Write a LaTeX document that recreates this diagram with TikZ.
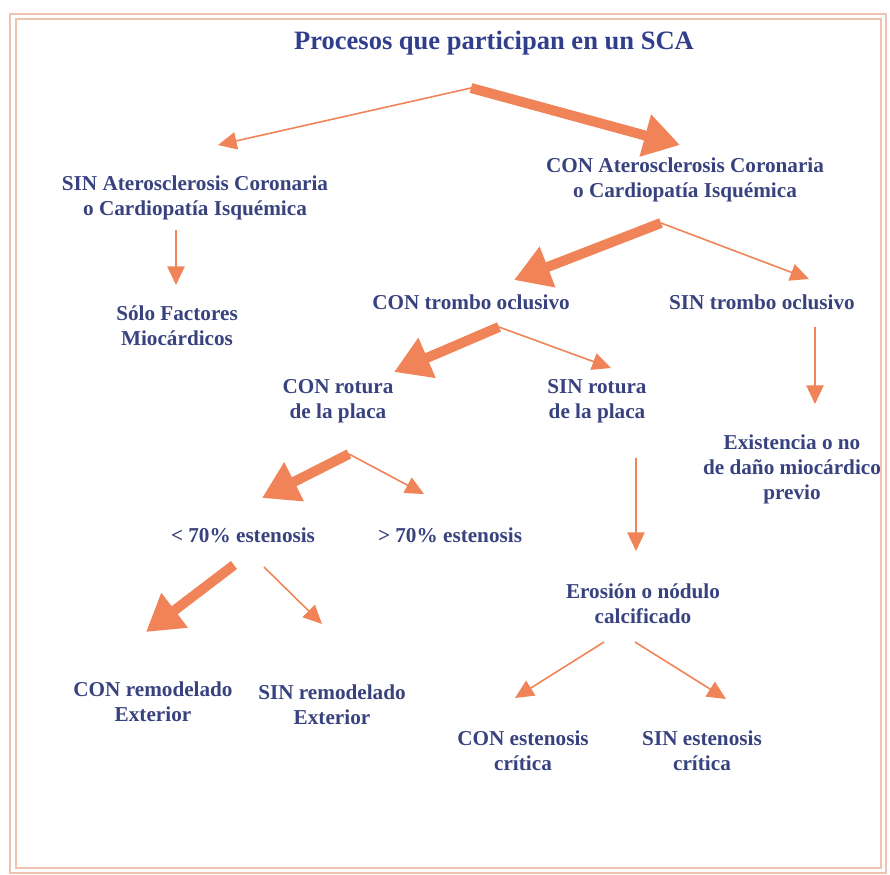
\documentclass[tikz,border=0pt]{standalone}
\usepackage{fontspec}
\setmainfont{Liberation Serif}
\usepackage{xcolor}
\usepackage{tikz}
\usetikzlibrary{arrows.meta}
\definecolor{flecha}{RGB}{240,132,88}
\definecolor{texto}{RGB}{56,66,126}
\definecolor{titulo}{RGB}{48,62,140}
\definecolor{marco}{RGB}{238,196,176}

\begin{document}
\begin{tikzpicture}[x=0.75pt, y=-0.75pt,
  caja/.style={align=center, text=texto, inner sep=0pt, font=\fontsize{15.9}{18.75}\selectfont\bfseries},
  fina/.style={flecha, line width=1.2pt, -{Triangle[length=14pt,width=13pt]}},
  gruesa/.style={flecha, line width=7.5pt, -{Triangle[length=27pt,width=31pt]}}]
  \useasboundingbox (0,0) rectangle (890,875);
  \draw[marco, line width=1.2pt] (10,14) rectangle (886,873);
  \draw[marco, line width=0.9pt] (16,19) rectangle (881,868);

  \node[caja, text=titulo, font=\fontsize{19.9}{24}\selectfont\bfseries] (titulo) at (494,43) {Procesos que participan en un SCA};
  \node[caja] (sinat) at (195,198) {SIN Aterosclerosis Coronaria\\o Cardiopatía Isquémica};
  \node[caja] (conat) at (685,180) {CON Aterosclerosis Coronaria\\o Cardiopatía Isquémica};
  \node[caja] (solo) at (177,326) {Sólo Factores\\Miocárdicos};
  \node[caja] (contr) at (471,302) {CON trombo oclusivo};
  \node[caja] (sintr) at (762,302) {SIN trombo oclusivo};
  \node[caja] (conrot) at (338,401) {CON rotura\\de la placa};
  \node[caja] (sinrot) at (597,401) {SIN rotura\\de la placa};
  \node[caja] (exist) at (792,469) {Existencia o no\\de daño miocárdico\\previo};
  \node[caja] (menos) at (243,535) {< 70\% estenosis};
  \node[caja] (mas) at (450,535) {> 70\% estenosis};
  \node[caja] (eros) at (643,604) {Erosión o nódulo\\calcificado};
  \node[caja] (conrem) at (153,702) {CON remodelado\\Exterior};
  \node[caja] (sinrem) at (332,705) {SIN remodelado\\Exterior};
  \node[caja] (conest) at (523,751) {CON estenosis\\crítica};
  \node[caja] (sinest) at (702,751) {SIN estenosis\\crítica};

  \coordinate (sca) at (471,88);
  \coordinate (a-sinat) at (218,145);
  \coordinate (a-conat) at (680,145);
  \coordinate (de-sinat) at (176,230);
  \coordinate (a-solo) at (176,285);
  \coordinate (de-conat) at (661,223);
  \coordinate (a-contr) at (514,280);
  \coordinate (a-sintr) at (809,279);
  \coordinate (de-contr) at (499,327);
  \coordinate (a-conrot) at (394,372);
  \coordinate (a-sinrot) at (611,368);
  \coordinate (de-sintr) at (815,327);
  \coordinate (a-exist) at (815,404);
  \coordinate (de-conrot) at (349,454);
  \coordinate (a-menos) at (262,498);
  \coordinate (a-mas) at (424,494);
  \coordinate (de-sinrot) at (636,458);
  \coordinate (a-eros) at (636,551);
  \coordinate (de-menos) at (234,565);
  \coordinate (de-menos2) at (264,567);
  \coordinate (a-conrem) at (146,632);
  \coordinate (a-sinrem) at (322,624);
  \coordinate (de-eros) at (604,642);
  \coordinate (de-eros2) at (635,642);
  \coordinate (a-conest) at (515,698);
  \coordinate (a-sinest) at (726,699);

  \draw[fina] (sca) -- (a-sinat);
  \draw[gruesa] (sca) -- (a-conat);
  \draw[fina] (de-sinat) -- (a-solo);
  \draw[gruesa] (de-conat) -- (a-contr);
  \draw[fina] (de-conat) -- (a-sintr);
  \draw[gruesa] (de-contr) -- (a-conrot);
  \draw[fina] (de-contr) -- (a-sinrot);
  \draw[fina] (de-sintr) -- (a-exist);
  \draw[gruesa] (de-conrot) -- (a-menos);
  \draw[fina] (de-conrot) -- (a-mas);
  \draw[fina] (de-sinrot) -- (a-eros);
  \draw[gruesa] (de-menos) -- (a-conrem);
  \draw[fina] (de-menos2) -- (a-sinrem);
  \draw[fina] (de-eros) -- (a-conest);
  \draw[fina] (de-eros2) -- (a-sinest);
\end{tikzpicture}
\end{document}
